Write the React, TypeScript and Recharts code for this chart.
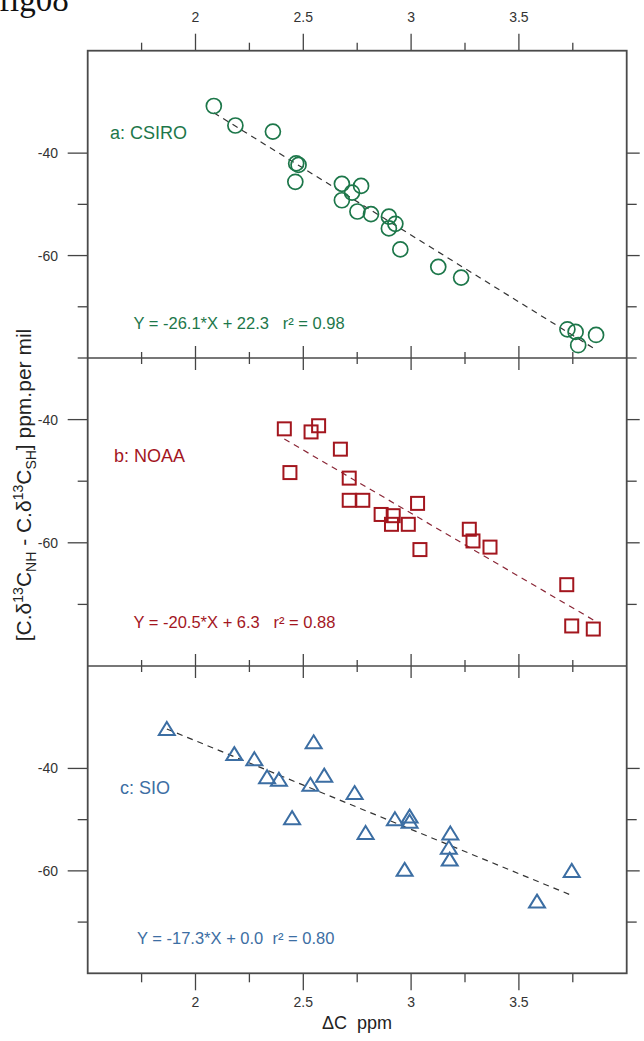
import React from 'react';
import { ScatterChart, Scatter, XAxis, YAxis, ReferenceLine } from 'recharts';

// ΔC (ppm) on x, interhemispheric C.δ13C difference on y
const dcTicks = [1.75, 2, 2.25, 2.5, 2.75, 3, 3.25, 3.5, 3.75];
const dcMajor = [2, 2.5, 3, 3.5];
const diffMajor = [-40, -60];
const diffTicksA = [-70, -60, -50, -40];
const diffTicksB = [-70, -60, -50, -40, -30];
const diffTicksC = [-70, -60, -50, -40];

const csiroDc = [2.085, 2.185, 2.359, 2.467, 2.478, 2.463, 2.679, 2.768, 2.726, 2.679, 2.751, 2.814, 2.897, 2.927, 2.897, 2.95, 3.126, 3.232, 3.725, 3.763, 3.775, 3.858];
const csiroDiff = [-30.8, -34.6, -35.8, -42.0, -42.3, -45.6, -46.0, -46.4, -47.7, -49.2, -51.4, -51.9, -52.4, -53.8, -54.7, -58.8, -62.2, -64.3, -74.4, -74.9, -77.5, -75.5];

const noaaDc = [2.412, 2.438, 2.536, 2.571, 2.672, 2.713, 2.713, 2.776, 2.861, 2.917, 2.909, 2.987, 3.03, 3.041, 3.27, 3.287, 3.366, 3.722, 3.745, 3.845];
const noaaDiff = [-41.5, -48.6, -42.0, -41.0, -44.8, -49.5, -53.1, -53.1, -55.4, -55.6, -57.0, -57.0, -53.6, -61.1, -57.8, -59.7, -60.7, -66.8, -73.5, -74.0];

const sioDc = [1.867, 2.18, 2.273, 2.332, 2.387, 2.533, 2.548, 2.597, 2.448, 2.738, 2.789, 2.925, 2.993, 2.993, 2.97, 3.182, 3.175, 3.179, 3.584, 3.745];
const sioDiff = [-32.5, -37.4, -38.4, -41.9, -42.4, -43.4, -35.1, -41.6, -49.9, -45.0, -52.8, -50.1, -49.6, -50.6, -60.0, -52.9, -55.7, -58.0, -66.2, -60.2];

// regression: slope, intercept, r2
const csiroFit = [-26.1, 22.3, 0.98];
const noaaFit = [-20.5, 6.3, 0.88];
const sioFit = [-17.3, 0.0, 0.8];

const W = 644;
const H = 1041;
const LEFT = 87.7;
const RIGHT = 626.7;
const TOP = 50.7;
const MID1 = 358;
const MID2 = 666;
const BOTTOM = 973.3;
const FONT = '"Liberation Sans", Arial, Helvetica, sans-serif';
const AXIS = '#444';

const GREEN = '#1d774a';
const RED = '#a3161e';
const BLUE = '#3c6ea3';

const toRows = (xs: number[], ys: number[]) => xs.map((x, i) => ({ dc: x, diff: ys[i] }));

function XTick({ x, value, mode }: { x: number; value: number; mode: string }) {
  const major = dcMajor.includes(value);
  if (mode === 'top') {
    return (
      <g>
        <line x1={x} x2={x} y1={TOP} y2={TOP - (major ? 17 : 8)} stroke={AXIS} strokeWidth={1.3} />
        <line x1={x} x2={x} y1={MID1 - (major ? 12 : 6)} y2={MID1 + (major ? 12 : 6)} stroke={AXIS} strokeWidth={1.3} />
        {major && (
          <text x={x} y={22} textAnchor="middle" fontSize={14} fontFamily={FONT} fill="#333">
            {String(value)}
          </text>
        )}
      </g>
    );
  }
  if (mode === 'mid') {
    return (
      <line x1={x} x2={x} y1={MID2 - (major ? 12 : 6)} y2={MID2 + (major ? 12 : 6)} stroke={AXIS} strokeWidth={1.3} />
    );
  }
  return (
    <g>
      <line x1={x} x2={x} y1={BOTTOM} y2={BOTTOM + (major ? 17 : 9)} stroke={AXIS} strokeWidth={1.3} />
      {major && (
        <text x={x} y={1007} textAnchor="middle" fontSize={14} fontFamily={FONT} fill="#333">
          {String(value)}
        </text>
      )}
    </g>
  );
}

function YTick({ y, value }: { y: number; value: number }) {
  const major = diffMajor.includes(value);
  return (
    <g>
      <line x1={LEFT - (major ? 20 : 10)} x2={LEFT} y1={y} y2={y} stroke={AXIS} strokeWidth={1.3} />
      <line x1={RIGHT} x2={RIGHT + (major ? 13 : 10)} y1={y} y2={y} stroke={AXIS} strokeWidth={1.3} />
      {major && (
        <text x={58} y={y + 5} textAnchor="end" fontSize={14} fontFamily={FONT} fill="#333">
          {String(value)}
        </text>
      )}
    </g>
  );
}

const circleShape = (p: any) => (
  <circle cx={p.cx} cy={p.cy} r={7.5} fill="none" stroke={GREEN} strokeWidth={1.7} />
);
const squareShape = (p: any) => (
  <rect x={p.cx - 6.5} y={p.cy - 6.5} width={13} height={13} fill="none" stroke={RED} strokeWidth={2} />
);
const triangleShape = (p: any) => (
  <path
    d={`M${p.cx},${p.cy - 8} L${p.cx + 8},${p.cy + 5} L${p.cx - 8},${p.cy + 5} Z`}
    fill="none"
    stroke={BLUE}
    strokeWidth={2}
  />
);

function Panel(props: {
  top: number;
  bottom: number;
  domain: number[];
  yTicks: number[];
  xs: number[];
  ys: number[];
  fit: number[];
  shape: any;
  lineColor: string;
  mode: string;
}) {
  const { top, bottom, domain, yTicks, xs, ys, fit, shape, lineColor, mode } = props;
  const rows = toRows(xs, ys);
  const x0 = Math.min(...xs);
  const x1 = Math.max(...xs);
  const isTop = mode === 'top';
  // axes take 1px of the margin each (a zero-size axis is not drawn)
  const margin = {
    top: isTop ? top - 1 : top,
    bottom: isTop ? H - bottom : H - bottom - 1,
    left: LEFT - 1,
    right: W - RIGHT,
  };
  return (
    <div style={{ position: 'absolute', left: 0, top: 0 }}>
      <ScatterChart width={W} height={H} margin={margin}>
        <XAxis
          dataKey="dc"
          type="number"
          domain={[1.5, 4]}
          ticks={dcTicks}
          interval={0}
          height={1}
          orientation={isTop ? 'top' : 'bottom'}
          axisLine={false}
          tickLine={false}
          tick={(p: any) => <XTick key={`x${p.payload.value}`} x={p.x} value={p.payload.value} mode={mode} />}
        />
        <YAxis
          dataKey="diff"
          type="number"
          domain={domain}
          ticks={yTicks}
          interval={0}
          width={1}
          axisLine={false}
          tickLine={false}
          allowDataOverflow
          tick={(p: any) => <YTick key={`y${p.payload.value}`} y={p.y} value={p.payload.value} />}
        />
        <ReferenceLine
          segment={[
            { x: x0, y: fit[0] * x0 + fit[1] },
            { x: x1, y: fit[0] * x1 + fit[1] },
          ]}
          stroke={lineColor}
          strokeWidth={1.2}
          strokeDasharray="6 5"
        />
        <Scatter data={rows} shape={shape} isAnimationActive={false} />
      </ScatterChart>
    </div>
  );
}

const eq = (fit: number[], gap: string) =>
  `Y = ${fit[0].toFixed(1)}*X + ${fit[1].toFixed(1)}${gap}r\u00b2 = ${fit[2].toFixed(2)}`;

export default function App() {
  return (
    <div style={{ position: 'absolute', left: 0, top: 0, width: W, height: H, background: '#fff' }}>
      <Panel top={TOP} bottom={MID1} domain={[-80, -20]} yTicks={diffTicksA} xs={csiroDc} ys={csiroDiff}
        fit={csiroFit} shape={circleShape} lineColor="#333" mode="top" />
      <Panel top={MID1} bottom={MID2} domain={[-80, -30]} yTicks={diffTicksB} xs={noaaDc} ys={noaaDiff}
        fit={noaaFit} shape={squareShape} lineColor="#8a2636" mode="mid" />
      <Panel top={MID2} bottom={BOTTOM} domain={[-80, -20]} yTicks={diffTicksC} xs={sioDc} ys={sioDiff}
        fit={sioFit} shape={triangleShape} lineColor="#333" mode="bottom" />
      <svg width={W} height={H} style={{ position: 'absolute', left: 0, top: 0, pointerEvents: 'none' }}>
        <text x={-1} y={11} fontSize={33} fontFamily='"Liberation Serif", "Times New Roman", serif' fill="#111">
          fig08
        </text>
        <rect x={LEFT} y={TOP} width={RIGHT - LEFT} height={BOTTOM - TOP} fill="none" stroke="#4a4a4a" strokeWidth={1.8} />
        <line x1={LEFT} x2={RIGHT} y1={MID1} y2={MID1} stroke="#4a4a4a" strokeWidth={1.6} />
        <line x1={LEFT} x2={RIGHT} y1={MID2} y2={MID2} stroke="#4a4a4a" strokeWidth={1.6} />

        <g fontFamily={FONT}>
          <text x={110} y={138.5} fontSize={18} fill={GREEN}>a: CSIRO</text>
          <text x={133.5} y={328.5} fontSize={16.5} fill={GREEN} style={{ whiteSpace: 'pre' }}>{eq(csiroFit, '   ')}</text>
          <text x={114} y={461.5} fontSize={18} fill={RED}>b: NOAA</text>
          <text x={133.5} y={627.5} fontSize={16.5} fill={RED} style={{ whiteSpace: 'pre' }}>{eq(noaaFit, '   ')}</text>
          <text x={120} y={794} fontSize={18} fill={BLUE}>c: SIO</text>
          <text x={137} y={944} fontSize={16.5} fill={BLUE} style={{ whiteSpace: 'pre' }}>{eq(sioFit, '  ')}</text>

          <text x={357} y={1029} textAnchor="middle" fontSize={18} fill="#222" style={{ whiteSpace: 'pre' }}>
            {'\u0394C  ppm'}
          </text>
          <text x={31} y={485} transform="rotate(-90 31 485)" textAnchor="middle" fontSize={21} fill="#222">
            {'[C.\u03b4'}
            <tspan dy={-8} fontSize={14}>13</tspan>
            <tspan dy={8}>C</tspan>
            <tspan dy={5} fontSize={14}>NH</tspan>
            <tspan dy={-5}>{' - C.\u03b4'}</tspan>
            <tspan dy={-8} fontSize={14}>13</tspan>
            <tspan dy={8}>C</tspan>
            <tspan dy={5} fontSize={14}>SH</tspan>
            <tspan dy={-5}>{'] ppm.per mil'}</tspan>
          </text>
        </g>
      </svg>
    </div>
  );
}
